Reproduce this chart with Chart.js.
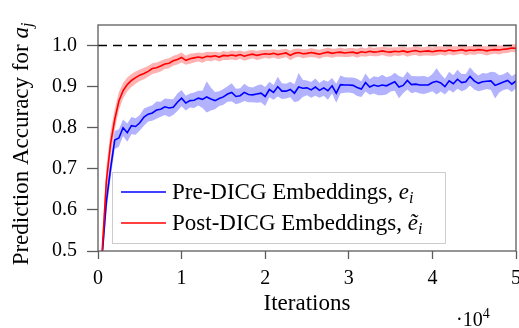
<!DOCTYPE html>
<html>
<head>
<meta charset="utf-8">
<script src="https://cdn.jsdelivr.net/npm/chart.js@4.4.1/dist/chart.umd.min.js"></script>
<style>
  html, body { margin: 0; padding: 0; background: #fff; }
  #wrap { width: 519px; height: 328px; }
</style>
</head>
<body>
<div id="wrap"><canvas id="chart" width="519" height="328"></canvas></div>
<script>
// iterations sampled every 500 steps
const iterations = [
  500, 1000, 1500, 2000, 2500, 3000, 3500, 4000, 4500, 5000,
  5500, 6000, 6500, 7000, 7500, 8000, 8500, 9000, 9500, 10000,
  10500, 11000, 11500, 12000, 12500, 13000, 13500, 14000, 14500, 15000,
  15500, 16000, 16500, 17000, 17500, 18000, 18500, 19000, 19500, 20000,
  20500, 21000, 21500, 22000, 22500, 23000, 23500, 24000, 24500, 25000,
  25500, 26000, 26500, 27000, 27500, 28000, 28500, 29000, 29500, 30000,
  30500, 31000, 31500, 32000, 32500, 33000, 33500, 34000, 34500, 35000,
  35500, 36000, 36500, 37000, 37500, 38000, 38500, 39000, 39500, 40000,
  40500, 41000, 41500, 42000, 42500, 43000, 43500, 44000, 44500, 45000,
  45500, 46000, 46500, 47000, 47500, 48000, 48500, 49000, 49500, 50000
]

const preMean = [
  0.490, 0.620, 0.700, 0.770, 0.775, 0.800, 0.788, 0.805, 0.803, 0.812,
  0.826, 0.833, 0.836, 0.843, 0.845, 0.851, 0.848, 0.850, 0.862, 0.872,
  0.860, 0.866, 0.867, 0.872, 0.869, 0.875, 0.870, 0.866, 0.871, 0.875,
  0.882, 0.886, 0.876, 0.878, 0.886, 0.881, 0.880, 0.882, 0.884, 0.876,
  0.893, 0.886, 0.900, 0.889, 0.889, 0.893, 0.884, 0.899, 0.896, 0.897,
  0.892, 0.899, 0.891, 0.897, 0.890, 0.902, 0.884, 0.905, 0.904, 0.904,
  0.903, 0.898, 0.894, 0.910, 0.899, 0.904, 0.901, 0.904, 0.902, 0.907,
  0.912, 0.899, 0.903, 0.915, 0.905, 0.906, 0.904, 0.904, 0.904, 0.910,
  0.913, 0.909, 0.900, 0.914, 0.907, 0.918, 0.910, 0.912, 0.925, 0.914,
  0.908, 0.912, 0.913, 0.914, 0.903, 0.907, 0.911, 0.915, 0.906, 0.914
]
const preStd = [
  0.025, 0.025, 0.024, 0.022, 0.021, 0.020, 0.022, 0.021, 0.020, 0.019,
  0.021, 0.018, 0.019, 0.021, 0.018, 0.020, 0.022, 0.019, 0.021, 0.020,
  0.018, 0.017, 0.019, 0.018, 0.021, 0.038, 0.028, 0.021, 0.018, 0.019,
  0.019, 0.022, 0.019, 0.018, 0.021, 0.019, 0.018, 0.021, 0.022, 0.023,
  0.019, 0.018, 0.024, 0.019, 0.018, 0.019, 0.022, 0.034, 0.021, 0.018,
  0.019, 0.021, 0.018, 0.019, 0.022, 0.019, 0.023, 0.022, 0.019, 0.018,
  0.019, 0.021, 0.019, 0.022, 0.019, 0.021, 0.022, 0.025, 0.021, 0.019,
  0.022, 0.027, 0.019, 0.022, 0.021, 0.019, 0.021, 0.022, 0.019, 0.021,
  0.032, 0.021, 0.019, 0.022, 0.021, 0.023, 0.021, 0.019, 0.022, 0.021,
  0.019, 0.021, 0.019, 0.022, 0.032, 0.021, 0.019, 0.021, 0.019, 0.018
]

const postMean = [
  0.500, 0.670, 0.760, 0.820, 0.865, 0.890, 0.905, 0.915, 0.922, 0.928,
  0.932, 0.937, 0.944, 0.946, 0.950, 0.955, 0.957, 0.963, 0.966, 0.971,
  0.964, 0.968, 0.970, 0.972, 0.970, 0.974, 0.973, 0.975, 0.972, 0.976,
  0.975, 0.977, 0.975, 0.978, 0.974, 0.977, 0.979, 0.976, 0.978, 0.980,
  0.979, 0.981, 0.978, 0.980, 0.982, 0.976, 0.981, 0.983, 0.980, 0.981,
  0.983, 0.981, 0.979, 0.982, 0.984, 0.981, 0.983, 0.984, 0.982, 0.983,
  0.984, 0.981, 0.985, 0.983, 0.986, 0.984, 0.985, 0.987, 0.985, 0.984,
  0.986, 0.985, 0.987, 0.984, 0.986, 0.988, 0.985, 0.986, 0.987, 0.985,
  0.987, 0.988, 0.986, 0.989, 0.987, 0.988, 0.990, 0.987, 0.989, 0.988,
  0.990, 0.989, 0.987, 0.989, 0.990, 0.989, 0.991, 0.992, 0.994, 0.993
]
const postStd = [
  0.025, 0.035, 0.030, 0.025, 0.022, 0.019, 0.017, 0.016, 0.015, 0.014,
  0.014, 0.013, 0.013, 0.013, 0.013, 0.012, 0.012, 0.012, 0.012, 0.012,
  0.011, 0.012, 0.011, 0.011, 0.012, 0.011, 0.011, 0.010, 0.011, 0.011,
  0.010, 0.011, 0.011, 0.010, 0.011, 0.011, 0.010, 0.011, 0.011, 0.010,
  0.011, 0.010, 0.011, 0.011, 0.010, 0.012, 0.011, 0.010, 0.011, 0.010,
  0.011, 0.010, 0.011, 0.010, 0.011, 0.011, 0.010, 0.011, 0.010, 0.011,
  0.010, 0.011, 0.011, 0.010, 0.011, 0.010, 0.011, 0.010, 0.011, 0.011,
  0.010, 0.011, 0.010, 0.011, 0.010, 0.011, 0.011, 0.010, 0.011, 0.010,
  0.011, 0.010, 0.011, 0.010, 0.011, 0.010, 0.010, 0.011, 0.010, 0.011,
  0.010, 0.010, 0.011, 0.010, 0.010, 0.011, 0.010, 0.010, 0.009, 0.010
]

// dashed reference at perfect accuracy
const refX = [0, 50000]
const refY = [1.0, 1.0]

const xTicks = [0, 10000, 20000, 30000, 40000, 50000]
const yTicks = [0.5, 0.6, 0.7, 0.8, 0.9, 1.0]

const seriesNames = ['Pre-DICG Embeddings, ', 'Post-DICG Embeddings, ']
const seriesSymbols = ['e', 'ẽ']
const seriesColors = ['#0000ff', '#ff0000']

const FONT = '"Liberation Serif", "Times New Roman", serif'
const AXIS = '#5c5c5c'

const pts = (xs, ys) => xs.map((x, i) => ({ x, y: ys[i] }))
const shifted = (m, s, k) => m.map((v, i) => +(v + k * s[i]).toFixed(4))

const frame = {
  id: 'frame',
  afterDatasetsDraw(chart) {
    const { ctx, chartArea: a } = chart
    ctx.save()
    ctx.strokeStyle = AXIS
    ctx.lineWidth = 1.3
    ctx.strokeRect(a.left, a.top, a.right - a.left, a.bottom - a.top)
    ctx.restore()
  }
}

// mixed roman / italic text, drawn as pieces along the baseline
function drawPieces (ctx, pieces, x, y) {
  let cx = x
  pieces.forEach(p => {
    ctx.font = p.font
    ctx.fillText(p.text, cx, y + (p.dy || 0))
    cx += ctx.measureText(p.text).width
  })
}
function piecesWidth (ctx, pieces) {
  let w = 0
  pieces.forEach(p => { ctx.font = p.font; w += ctx.measureText(p.text).width })
  return w
}

const labels = {
  id: 'labels',
  afterDraw(chart) {
    const { ctx, chartArea: a } = chart
    ctx.save()
    ctx.fillStyle = '#000'
    ctx.textBaseline = 'alphabetic'
    ctx.textAlign = 'left'

    // legend box
    ctx.fillStyle = '#fff'
    ctx.fillRect(112, 172, 333, 71)
    ctx.strokeStyle = '#cccccc'
    ctx.lineWidth = 1
    ctx.strokeRect(112.5, 172.5, 333, 71)
    seriesNames.forEach((name, i) => {
      const ly = 192 + i * 31
      ctx.strokeStyle = seriesColors[i]
      ctx.lineWidth = 1.6
      ctx.beginPath()
      ctx.moveTo(121, ly)
      ctx.lineTo(166, ly)
      ctx.stroke()
      ctx.fillStyle = '#000'
      drawPieces(ctx, [
        { text: name, font: '23px ' + FONT },
        { text: seriesSymbols[i], font: 'italic 23px ' + FONT },
        { text: 'i', font: 'italic 16px ' + FONT, dy: 4 }
      ], 172, ly + 7)
    })

    // y title
    const yt = [
      { text: 'Prediction Accuracy for ', font: '23px ' + FONT },
      { text: 'a', font: 'italic 23px ' + FONT },
      { text: 'j', font: 'italic 16px ' + FONT, dy: 4 }
    ]
    const w = piecesWidth(ctx, yt)
    ctx.translate(28, 144)
    ctx.rotate(-Math.PI / 2)
    drawPieces(ctx, yt, -w / 2, 0)
    ctx.setTransform(1, 0, 0, 1, 0, 0)

    // x title
    ctx.font = '23px ' + FONT
    ctx.textAlign = 'center'
    ctx.fillText('Iterations', (a.left + a.right) / 2, 310)
    ctx.textAlign = 'left'

    // scale factor
    drawPieces(ctx, [
      { text: '·10', font: '20px ' + FONT },
      { text: '4', font: '14px ' + FONT, dy: -8 }
    ], 456, 326)
    ctx.restore()
  }
}

new Chart(document.getElementById('chart'), {
  type: 'line',
  data: {
    datasets: [
      { data: pts(refX, refY), borderColor: '#000', borderWidth: 1.5, borderDash: [9, 6], pointRadius: 0, fill: false, order: 0 },
      { data: pts(iterations, postMean), borderColor: seriesColors[1], borderWidth: 1.6, pointRadius: 0, fill: false, order: 1 },
      { data: pts(iterations, preMean), borderColor: seriesColors[0], borderWidth: 1.6, pointRadius: 0, fill: false, order: 2 },
      { data: pts(iterations, shifted(postMean, postStd, 1)), borderWidth: 0, pointRadius: 0, fill: '+1', backgroundColor: 'rgba(255,0,0,0.3)', order: 3 },
      { data: pts(iterations, shifted(postMean, postStd, -1)), borderWidth: 0, pointRadius: 0, fill: false, order: 4 },
      { data: pts(iterations, shifted(preMean, preStd, 1)), borderWidth: 0, pointRadius: 0, fill: '+1', backgroundColor: 'rgba(0,0,255,0.3)', order: 5 },
      { data: pts(iterations, shifted(preMean, preStd, -1)), borderWidth: 0, pointRadius: 0, fill: false, order: 6 }
    ]
  },
  options: {
    responsive: false,
    animation: false,
    devicePixelRatio: 1,
    layout: { padding: { top: 25, right: 3, left: 0, bottom: 0 } },
    plugins: { legend: { display: false }, tooltip: { enabled: false } },
    scales: {
      x: {
        type: 'linear',
        min: 0,
        max: 50000,
        afterFit: s => { s.height = 77; s.paddingLeft = 0; s.paddingRight = 0 },
        afterBuildTicks: s => { s.ticks = xTicks.map(v => ({ value: v })) },
        grid: { drawOnChartArea: false, tickLength: 8, tickColor: AXIS, tickWidth: 1.3 },
        border: { display: false },
        ticks: { padding: 8, color: '#000', maxRotation: 0, font: { family: FONT, size: 20 }, callback: v => String(v / 10000) }
      },
      y: {
        min: 0.5,
        max: 1.05,
        afterFit: s => { s.width = 98; s.paddingTop = 0; s.paddingBottom = 0 },
        afterBuildTicks: s => { s.ticks = yTicks.map(v => ({ value: v })) },
        grid: { drawOnChartArea: false, tickLength: 11, tickColor: AXIS, tickWidth: 1.3 },
        border: { display: false },
        ticks: { padding: 10, color: '#000', font: { family: FONT, size: 20 }, callback: v => v.toFixed(1) }
      }
    }
  },
  plugins: [frame, labels]
})
</script>
</body>
</html>
